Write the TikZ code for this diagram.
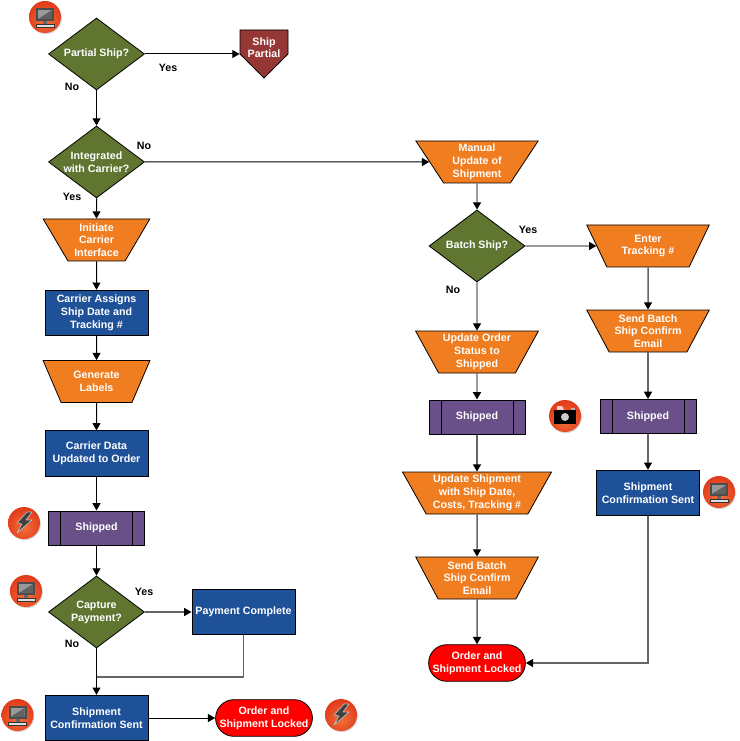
\documentclass[tikz,border=0pt]{standalone}
\usepackage{fontspec}
\setmainfont{Liberation Sans}
\usetikzlibrary{arrows.meta,shapes.geometric,shapes.misc,shapes.symbols,shadows}
\definecolor{orangefill}{HTML}{F07D20}
\definecolor{greenfill}{HTML}{5F7530}
\definecolor{bluefill}{HTML}{1F5199}
\definecolor{purplefill}{HTML}{6A5088}
\definecolor{maroonfill}{HTML}{953735}
\definecolor{linegray}{HTML}{666666}
\definecolor{ballcore}{HTML}{F0703A}
\definecolor{ballmid}{HTML}{E5431F}
\definecolor{ballouter}{HTML}{D0220F}
\definecolor{ballrim}{HTML}{8E0F08}
\pgfdeclareradialshading{iconball}{\pgfpoint{0bp}{-8bp}}{%
  color(0bp)=(ballcore);
  color(24bp)=(ballmid);
  color(44bp)=(ballouter);
  color(58bp)=(ballrim);
  color(62bp)=(ballrim)}
\tikzset{
  x=0.75pt,y=-0.75pt,
  flowtext/.style={font=\bfseries\fontsize{8}{9.6}\selectfont,text=white,align=center,inner sep=0pt},
  decision/.style={flowtext,draw=black,line width=0.6pt,fill=greenfill,diamond,aspect=1.333,minimum width=72pt,minimum height=54pt},
  manualop/.style={flowtext,draw=black,line width=0.6pt,fill=orangefill,trapezium,shape border rotate=180,trapezium left angle=60,trapezium right angle=60,trapezium stretches=true,minimum width=#1,minimum height=31.5pt},
  manualop/.default=80.25pt,
  process/.style={flowtext,draw=black,line width=0.75pt,fill=bluefill,rectangle,minimum width=77.25pt,minimum height=34pt},
  subproc/.style={flowtext,draw=black,line width=0.75pt,fill=purplefill,rectangle,minimum width=72pt,minimum height=25.5pt,
    path picture={\draw[line width=0.75pt] ([xshift=9pt]path picture bounding box.north west) -- ([xshift=9pt]path picture bounding box.south west);
      \draw[line width=0.75pt] ([xshift=-9pt]path picture bounding box.north east) -- ([xshift=-9pt]path picture bounding box.south east);}},
  offpage/.style={flowtext,draw=black,line width=0.6pt,fill=maroonfill,signal,signal to=south,signal pointer angle=90,minimum width=36pt,minimum height=18pt},
  terminator/.style={flowtext,draw=black,line width=0.6pt,fill=red,rounded rectangle,minimum width=72pt,minimum height=27.5pt},
  flowlabel/.style={font=\bfseries\fontsize{8}{9.6}\selectfont,text=black,inner sep=0pt},
  flow/.style={-{Triangle[length=5.5pt,width=6pt]},line width=0.75pt,black},
  grayflow/.style={-{Triangle[length=5.5pt,width=6pt,color=black]},line width=1.1pt,linegray},
  iconnode/.style={circle,minimum size=24pt,inner sep=0pt,shading=iconball,drop shadow={shadow xshift=0.6pt,shadow yshift=-0.8pt,opacity=0.35}},
  pics/monitorglyph/.style={code={
    \fill[black!70] (-9,-9) rectangle (9,4);
    \fill[black!40] (-7,-7) rectangle (7,2);
    \fill[black!62] (-7,2) -- (7,-7) -- (7,2) -- cycle;
    \fill[black!60] (-2,4) rectangle (2,7);
    \fill[black!12] (-9,7) rectangle (9,10);
    \draw[black!80,line width=0.4pt] (-9,7) rectangle (9,10);}},
  pics/boltglyph/.style={code={
    \draw[white!75!black,line width=0.5pt,fill=black!75,line join=round] (3,-11) -- (-7,0) -- (-2,1) -- (-7,10) -- (8,-3) -- (2,-3) -- (8,-11) -- cycle;}},
  pics/cameraglyph/.style={code={
    \fill[white!80!red] (-8,-10) -- (-3,-10) -- (-1,-6) -- (-8,-6) -- cycle;
    \fill[black] (-11,-6) rectangle (11,8);
    \fill[white!80!black] (0,1) circle[radius=4];
    \fill[white!70!black] (6,-8) rectangle (10,-6);}}
}
\begin{document}
\begin{tikzpicture}
\useasboundingbox (0,0) rectangle (739,741);
\node[decision] (partial) at (96.5,54) {Partial Ship?};
\node[offpage,label={[flowtext,yshift=-4.2pt]center:{Ship\\Partial}}] (shippartial) at (264,42) {};
\node[decision] (integrated) at (96.5,162) {Integrated\\with Carrier?};
\node[manualop] (initiate) at (96.5,240) {Initiate\\Carrier\\Interface};
\node[process] (assigns) at (96.5,313) {Carrier Assigns\\Ship Date and\\Tracking \#};
\node[manualop] (labels) at (96.5,381.5) {Generate\\Labels};
\node[process] (carrierdata) at (96.5,453.5) {Carrier Data\\Updated to Order};
\node[subproc] (shippedA) at (96.5,528) {Shipped};
\node[decision] (capture) at (96.5,612) {Capture\\Payment?};
\node[process] (payment) at (243.5,612) {Payment Complete};
\node[process] (confirmA) at (96.5,718) {Shipment\\Confirmation Sent};
\node[terminator] (lockedA) at (264,718) {Order and\\Shipment Locked};
\coordinate (joinA) at (96.5,677);
\node[manualop=92.25pt] (manual) at (477,162) {Manual\\Update of\\Shipment};
\node[decision] (batch) at (477,246) {Batch Ship?};
\node[manualop=92.25pt] (tracking) at (648,246) {Enter\\Tracking \#};
\node[manualop=92.25pt] (emailA) at (648,331) {Send Batch\\Ship Confirm\\Email};
\node[subproc] (shippedC) at (648,416.5) {Shipped};
\node[process] (confirmB) at (648,493) {Shipment\\Confirmation Sent};
\node[manualop=92.25pt] (status) at (477,352) {Update Order\\Status to\\Shipped};
\node[subproc] (shippedB) at (477,417) {Shipped};
\node[manualop=111.75pt] (update) at (477,493) {Update Shipment\\with Ship Date,\\Costs, Tracking \#};
\node[manualop=92.25pt] (emailB) at (477,578) {Send Batch\\Ship Confirm\\Email};
\node[terminator] (lockedB) at (477,663) {Order and\\Shipment Locked};
\node[flowlabel] (yesA) at (168,68) {Yes};
\node[flowlabel] (noA) at (72,87) {No};
\node[flowlabel] (noB) at (144,146) {No};
\node[flowlabel] (yesB) at (72,197) {Yes};
\node[flowlabel] (yesC) at (528,230) {Yes};
\node[flowlabel] (noC) at (453,290) {No};
\node[flowlabel] (yesD) at (144,592) {Yes};
\node[flowlabel] (noD) at (72,644) {No};
\draw[flow] (partial) -- (shippartial.west |- partial);
\draw[flow] (partial) -- (integrated);
\draw[flow] (integrated) -- (manual);
\draw[flow] (integrated) -- (initiate);
\draw[flow] (initiate) -- (assigns);
\draw[flow] (assigns) -- (labels);
\draw[flow] (labels) -- (carrierdata);
\draw[flow] (carrierdata) -- (shippedA);
\draw[flow] (shippedA) -- (capture);
\draw[grayflow] (capture) -- (payment);
\draw[line width=1.1pt,linegray] (payment) |- (joinA);
\draw[flow] (capture) -- (confirmA);
\draw[flow] (confirmA) -- (lockedA);
\draw[grayflow] (manual) -- (batch);
\draw[grayflow] (batch) -- (tracking);
\draw[grayflow] (batch) -- (status);
\draw[grayflow] (tracking) -- (emailA);
\draw[grayflow] (emailA) -- (shippedC);
\draw[grayflow] (shippedC) -- (confirmB);
\draw[grayflow] (confirmB) |- (lockedB);
\draw[grayflow] (status) -- (shippedB);
\draw[grayflow] (shippedB) -- (update);
\draw[grayflow] (update) -- (emailB);
\draw[grayflow] (emailB) -- (lockedB);
\node[iconnode] (iconA) at (45,17) {};
\pic at (iconA) {monitorglyph};
\node[iconnode] (iconB) at (24,523) {};
\pic at (iconB) {boltglyph};
\node[iconnode] (iconC) at (26,591) {};
\pic at (iconC) {monitorglyph};
\node[iconnode] (iconD) at (17.5,715) {};
\pic at (iconD) {monitorglyph};
\node[iconnode] (iconE) at (341,715) {};
\pic at (iconE) {boltglyph};
\node[iconnode] (iconF) at (565,416) {};
\pic at (iconF) {cameraglyph};
\node[iconnode] (iconG) at (719,492) {};
\pic at (iconG) {monitorglyph};
\end{tikzpicture}
\end{document}
